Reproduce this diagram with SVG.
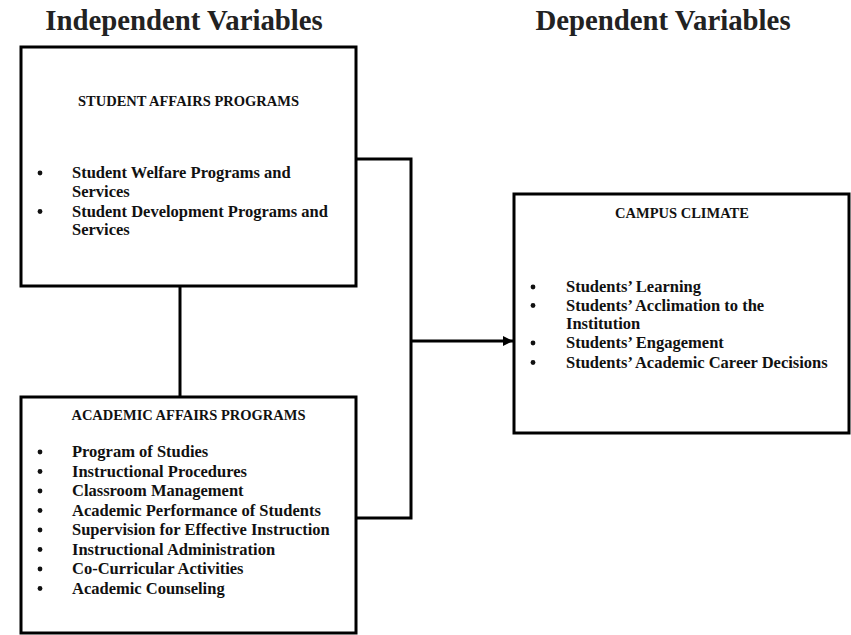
<svg xmlns="http://www.w3.org/2000/svg" width="851" height="635" viewBox="0 0 851 635">
<defs>
<style>
.box{fill:#fff;stroke:#000;stroke-width:3}
.conn{fill:none;stroke:#000;stroke-width:3}
.title{font-family:"Liberation Serif","Times New Roman",serif;font-weight:bold;font-size:28.8px;fill:#222;text-anchor:middle}
.head{font-family:"Liberation Serif","Times New Roman",serif;font-weight:bold;font-size:14.5px;fill:#111;text-anchor:middle}
.item{font-family:"Liberation Serif","Times New Roman",serif;font-weight:bold;font-size:16.5px;fill:#111}
</style>
<marker id="arr" markerWidth="10" markerHeight="10" refX="10" refY="5" orient="auto" markerUnits="userSpaceOnUse">
<path d="M0,0 L10,5 L0,10 Z" fill="#000"/>
</marker>
</defs>
<rect width="851" height="635" fill="#fff"/>
<text class="title" x="184" y="30">Independent Variables</text>
<text class="title" x="663" y="30">Dependent Variables</text>
<g id="connectors">
<path class="conn" d="M180,286 V397"/>
<path class="conn" d="M356,159 H411 V518 H356"/>
<path class="conn" d="M411,341 H513" marker-end="url(#arr)"/>
</g>
<g id="student-affairs">
<rect class="box" x="21" y="47" width="335" height="239"/>
<text class="head" x="188.5" y="106">STUDENT AFFAIRS PROGRAMS</text>
<circle cx="40" cy="173" r="2.4" fill="#111"/>
<circle cx="40" cy="211.5" r="2.4" fill="#111"/>
<text class="item" x="72" y="178">Student Welfare Programs and</text>
<text class="item" x="72" y="197">Services</text>
<text class="item" x="72" y="216.5">Student Development Programs and</text>
<text class="item" x="72" y="235">Services</text>
</g>
<g id="academic-affairs">
<rect class="box" x="21" y="397" width="335" height="236"/>
<text class="head" x="188.5" y="420">ACADEMIC AFFAIRS PROGRAMS</text>
<g fill="#111">
<circle cx="40" cy="452" r="2.4"/>
<circle cx="40" cy="471.5" r="2.4"/>
<circle cx="40" cy="491" r="2.4"/>
<circle cx="40" cy="510.5" r="2.4"/>
<circle cx="40" cy="530" r="2.4"/>
<circle cx="40" cy="549.5" r="2.4"/>
<circle cx="40" cy="569" r="2.4"/>
<circle cx="40" cy="588.5" r="2.4"/>
</g>
<text class="item" x="72" y="457">Program of Studies</text>
<text class="item" x="72" y="476.5">Instructional Procedures</text>
<text class="item" x="72" y="496">Classroom Management</text>
<text class="item" x="72" y="515.5">Academic Performance of Students</text>
<text class="item" x="72" y="535">Supervision for Effective Instruction</text>
<text class="item" x="72" y="554.5">Instructional Administration</text>
<text class="item" x="72" y="574">Co-Curricular Activities</text>
<text class="item" x="72" y="593.5">Academic Counseling</text>
</g>
<g id="campus-climate">
<rect class="box" x="514" y="194" width="335" height="239"/>
<text class="head" x="682" y="218">CAMPUS CLIMATE</text>
<g fill="#111">
<circle cx="533" cy="287" r="2.4"/>
<circle cx="533" cy="305.5" r="2.4"/>
<circle cx="533" cy="343" r="2.4"/>
<circle cx="533" cy="362.5" r="2.4"/>
</g>
<text class="item" x="566" y="292">Students’ Learning</text>
<text class="item" x="566" y="310.5">Students’ Acclimation to the</text>
<text class="item" x="566" y="329">Institution</text>
<text class="item" x="566" y="348">Students’ Engagement</text>
<text class="item" x="566" y="367.5">Students’ Academic Career Decisions</text>
</g>
</svg>
